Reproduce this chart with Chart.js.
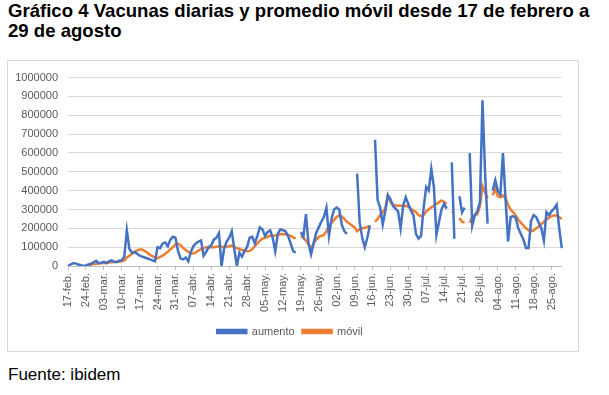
<!DOCTYPE html>
<html>
<head>
<meta charset="utf-8">
<script src="https://cdn.jsdelivr.net/npm/chart.js@4.4.1/dist/chart.umd.min.js"></script>
<style>
    body { margin: 0; background: #fff; width: 609px; height: 395px; overflow: hidden; font-family: "Liberation Sans", Arial, sans-serif; }
    #title { position: absolute; left: 8px; top: 1px; font-weight: bold; font-size: 19px; line-height: 20px; color: #000; white-space: nowrap; transform: scaleX(0.978); transform-origin: left top; }
    #box { position: absolute; left: 7px; top: 60px; width: 570px; height: 290px; border: 1px solid #d9d9d9; }
    #source { position: absolute; left: 8px; top: 365px; font-size: 17px; color: #000; }
</style>
</head>
<body>
<div id="title">Gráfico 4 Vacunas diarias y promedio móvil desde 17 de febrero a<br>29 de agosto</div>
<div id="box"><canvas id="chart" width="570" height="290"></canvas></div>
<div id="source">Fuente: ibidem</div>
<script>
'use strict';

// one label every 7 days, 17-feb to 25-ago (series runs daily to 29-ago)
var tickLabels = ['17-feb.', '24-feb.', '03-mar.', '10-mar.', '17-mar.', '24-mar.', '31-mar.',
    '07-abr.', '14-abr.', '21-abr.', '28-abr.', '05-may.', '12-may.', '19-may.', '26-may.',
    '02-jun.', '09-jun.', '16-jun.', '23-jun.', '30-jun.', '07-jul.', '14-jul.', '21-jul.',
    '28-jul.', '04-ago.', '11-ago.', '18-ago.', '25-ago.'];
var numDays = 194;

// daily vaccinations (one row per week)
var aumento = [
    0, 8000, 15000, 14000, 8000, 4000, 2000,
    3000, 8000, 12000, 20000, 28000, 15000, 18000,
    22000, 15000, 25000, 30000, 22000, 20000, 28000,
    30000, 50000, 190000, 90000, 70000, 75000, 65000,
    55000, 50000, 45000, 40000, 35000, 30000, 25000,
    100000, 95000, 120000, 125000, 105000, 140000, 155000,
    150000, 80000, 40000, 35000, 45000, 25000, 75000,
    105000, 120000, 130000, 135000, 55000, 75000, 100000,
    110000, 140000, 150000, 175000, 0, 90000, 130000,
    150000, 185000, 90000, 0, 70000, 50000, 80000,
    100000, 150000, 155000, 120000, 160000, 205000, 195000,
    160000, 180000, 190000, 150000, 78000, 170000, 195000,
    190000, 185000, 160000, 120000, 80000, 70000, null,
    180000, 155000, 275000, 120000, 62000, 120000, 175000,
    205000, 235000, 260000, 310000, 160000, 250000, 300000,
    310000, 300000, 220000, 185000, 170000, null, null,
    null, 490000, 230000, 150000, 100000, 150000, 215000,
    null, 670000, 350000, 310000, 220000, 290000, 375000,
    355000, 320000, 305000, 290000, 200000, 320000, 365000,
    330000, 295000, 270000, 170000, 145000, 160000, 310000,
    420000, 400000, 515000, 420000, 165000, 235000, 300000,
    330000, 305000, null, 550000, 145000, null, 370000,
    285000, 310000, null, 600000, 215000, 270000, 290000,
    340000, 880000, 500000, 225000, null, 400000, 455000,
    400000, 380000, 600000, 360000, 130000, 260000, 265000,
    255000, 200000, 170000, 140000, 95000, 95000, 240000,
    270000, 260000, 230000, 200000, 135000, 285000, 270000,
    290000, 305000, 325000, 200000, 95000
];

// moving average
var movil = [
    null, null, null, null, null, null, null,
    2000, 4000, 7000, 10000, 12000, 13000, 14000,
    16000, 17000, 18000, 20000, 21000, 22000, 23000,
    25000, 30000, 45000, 55000, 65000, 75000, 82000,
    88000, 88000, 80000, 70000, 60000, 52000, 45000,
    42000, 48000, 55000, 65000, 75000, 88000, 100000,
    115000, 118000, 110000, 95000, 85000, 75000, 68000,
    66000, 72000, 82000, 90000, 95000, 100000, 100000,
    100000, 100000, 102000, 105000, 103000, 100000, 102000,
    105000, 108000, 100000, 95000, 90000, 85000, 82000,
    78000, 80000, 90000, 105000, 120000, 135000, 145000,
    150000, 155000, 160000, 160000, 162000, 165000, 168000,
    170000, 168000, 165000, 160000, 152000, 145000, null,
    160000, 150000, 135000, 115000, 95000, 120000, 140000,
    155000, 160000, 165000, 185000, 210000, 230000, 245000,
    260000, 270000, 262000, 250000, 235000, 225000, 215000,
    205000, 185000, 195000, 200000, 203000, 207000, 213000,
    null, 235000, 250000, 270000, 285000, 305000, 375000,
    340000, 325000, 322000, 320000, 320000, 320000, 318000,
    315000, 305000, 295000, 285000, 270000, 265000, 270000,
    290000, 300000, 312000, 320000, 330000, 338000, 348000,
    340000, 330000, null, 288000, 280000, null, 255000,
    235000, 230000, null, 230000, 260000, 270000, 275000,
    320000, 425000, 390000, 360000, null, 375000, 410000,
    370000, 365000, 375000, 360000, 325000, 300000, 285000,
    270000, 245000, 230000, 215000, 200000, 190000, 185000,
    188000, 200000, 210000, 222000, 235000, 248000, 255000,
    265000, 268000, 268000, 260000, 250000
];

var dayLabels = [];
for (var i = 0; i < numDays; i++) {
    dayLabels.push(i % 7 === 0 ? tickLabels[i / 7] : '');
}

var axisGrey = '#595959';

new Chart(document.getElementById('chart'), {
    type: 'line',
    data: {
        labels: dayLabels,
        datasets: [{
            label: 'aumento',
            data: aumento,
            borderColor: '#4472c4',
            backgroundColor: '#4472c4',
            borderWidth: 2.5,
            pointRadius: 0,
            tension: 0,
            spanGaps: false
        }, {
            label: 'móvil',
            data: movil,
            borderColor: '#ed7d31',
            backgroundColor: '#ed7d31',
            borderWidth: 2.5,
            pointRadius: 0,
            tension: 0,
            spanGaps: false
        }]
    },
    options: {
        responsive: false,
        animation: false,
        devicePixelRatio: 1,
        layout: {
            padding: { left: 8, right: 14, top: 9, bottom: 4 }
        },
        plugins: {
            legend: {
                display: true,
                position: 'bottom',
                labels: {
                    boxWidth: 29,
                    boxHeight: 3,
                    padding: 8,
                    color: axisGrey,
                    font: { size: 11, family: '"Liberation Sans", Arial, sans-serif' }
                }
            },
            tooltip: { enabled: false }
        },
        scales: {
            x: {
                ticks: {
                    autoSkip: false,
                    minRotation: 90,
                    maxRotation: 90,
                    padding: 3,
                    color: axisGrey,
                    font: { size: 11, family: '"Liberation Sans", Arial, sans-serif' }
                },
                grid: {
                    drawOnChartArea: false,
                    tickLength: 4,
                    color: function (c) { return c.index % 7 === 0 ? '#bfbfbf' : 'rgba(0,0,0,0)'; }
                },
                border: { color: '#bfbfbf' },
                afterFit: function (s) { s.height = 52; }
            },
            y: {
                min: 0,
                max: 1000000,
                ticks: {
                    stepSize: 100000,
                    padding: 10,
                    color: axisGrey,
                    font: { size: 11, family: '"Liberation Sans", Arial, sans-serif' },
                    callback: function (v) { return String(v); }
                },
                grid: { color: '#d9d9d9', drawTicks: false },
                border: { display: false },
                afterFit: function (s) { s.width = 52; }
            }
        }
    }
});
</script>
</body>
</html>
